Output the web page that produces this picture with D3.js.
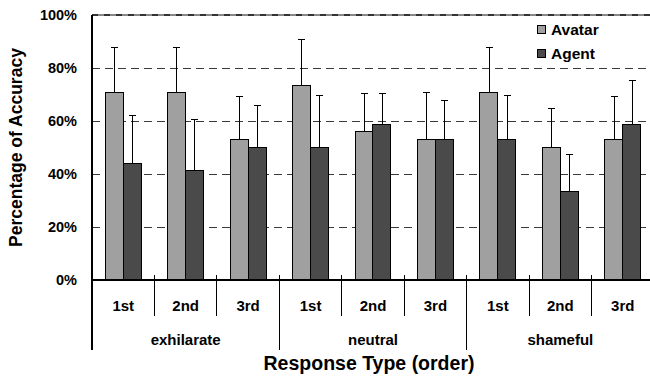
<!DOCTYPE html>
<html>
<head>
<meta charset="utf-8">
<script src="https://cdn.jsdelivr.net/npm/d3@7"></script>
<style>
  body { margin: 0; background: #fff; }
  text { font-family: Arial, "Liberation Sans", sans-serif; font-weight: bold; fill: #000; }
  line, rect { shape-rendering: crispEdges; }
</style>
</head>
<body>
<div id="chart"></div>
<script>
// data
const emotions = ["exhilarate", "neutral", "shameful"]
const orders = ["1st", "2nd", "3rd"]
const seriesNames = ["Avatar", "Agent"]
const avatarMean = [70.6, 70.6, 52.9, 73.5, 55.9, 52.9, 70.6, 50.0, 52.9]
const avatarUpper = [87.8, 87.8, 69.1, 90.9, 70.4, 70.9, 87.8, 64.8, 69.1]
const agentMean = [44.1, 41.2, 50.0, 50.0, 58.8, 52.9, 52.9, 33.3, 58.8]
const agentUpper = [62.1, 60.4, 66.0, 69.8, 70.4, 67.9, 69.8, 47.2, 75.1]
const yTicks = [0, 20, 40, 60, 80, 100]

const width = 650, height = 376
const margin = {left: 92, right: -4, top: 15, bottom: 96}
const colors = {Avatar: "#a0a0a0", Agent: "#4a4a4a"}

const svg = d3.select("#chart").append("svg")
    .attr("width", width)
    .attr("height", height)

// one slot per emotion/order pair
const slots = []
emotions.forEach(e => orders.forEach(o => slots.push(e + "|" + o)))

const x = d3.scaleBand()
    .domain(slots)
    .range([margin.left, width - margin.right])

const xInner = d3.scaleBand()
    .domain(seriesNames)
    .range([0, x.bandwidth()])
    .paddingInner(0)
    .paddingOuter(0.74)

const y = d3.scaleLinear()
    .domain([0, 100])
    .range([height - margin.bottom, margin.top])

// gridlines
svg.append("g")
    .selectAll("line")
    .data(yTicks.filter(d => d > 0 && d < 100))
    .enter().append("line")
    .attr("x1", margin.left)
    .attr("x2", width)
    .attr("y1", d => y(d) + 0.5)
    .attr("y2", d => y(d) + 0.5)
    .attr("stroke", "#3a3a3a")
    .attr("stroke-width", 1)
    .attr("stroke-dasharray", "8,5")

// top border: gray line with darker dashes
svg.append("line")
    .attr("x1", margin.left).attr("x2", width)
    .attr("y1", y(100)).attr("y2", y(100))
    .attr("stroke", "#888").attr("stroke-width", 2)
svg.append("line")
    .attr("x1", margin.left).attr("x2", width)
    .attr("y1", y(100)).attr("y2", y(100))
    .attr("stroke", "#333").attr("stroke-width", 2)
    .attr("stroke-dasharray", "6,6")

// y tick labels
svg.append("g")
    .selectAll("text")
    .data(yTicks)
    .enter().append("text")
    .attr("x", 77)
    .attr("y", d => y(d))
    .attr("dy", "0.36em")
    .attr("text-anchor", "end")
    .style("font-size", "14.5px")
    .text(d => d + "%")

const rows = slots.map((s, i) => ({
    slot: s,
    values: [
        {name: "Avatar", mean: avatarMean[i], upper: avatarUpper[i]},
        {name: "Agent", mean: agentMean[i], upper: agentUpper[i]}
    ]
}))

const groups = svg.append("g")
    .selectAll("g")
    .data(rows)
    .enter().append("g")
    .attr("transform", d => "translate(" + x(d.slot) + ",0)")

const bars = groups.selectAll("g")
    .data(d => d.values)
    .enter().append("g")

const cx = d => Math.round(xInner(d.name) + xInner.bandwidth() / 2) + 0.5

// error bars (upper only)
bars.append("line")
    .attr("x1", cx)
    .attr("x2", cx)
    .attr("y1", d => y(d.mean))
    .attr("y2", d => y(d.upper))
    .attr("stroke", "#000")
    .attr("stroke-width", 1)
bars.append("line")
    .attr("x1", d => cx(d) - 3.5)
    .attr("x2", d => cx(d) + 3.5)
    .attr("y1", d => y(d.upper))
    .attr("y2", d => y(d.upper))
    .attr("stroke", "#000")
    .attr("stroke-width", 1)

bars.append("rect")
    .attr("x", d => xInner(d.name))
    .attr("y", d => y(d.mean))
    .attr("width", xInner.bandwidth())
    .attr("height", d => y(0) - y(d.mean))
    .attr("fill", d => colors[d.name])
    .attr("stroke", "#000")
    .attr("stroke-width", 1)

// axes lines
svg.append("line")
    .attr("x1", margin.left).attr("x2", width)
    .attr("y1", y(0)).attr("y2", y(0))
    .attr("stroke", "#000").attr("stroke-width", 1.5)
svg.append("line")
    .attr("x1", margin.left).attr("x2", margin.left)
    .attr("y1", y(100)).attr("y2", 350)
    .attr("stroke", "#000").attr("stroke-width", 1.5)

// dividers between order slots and between emotion groups
svg.append("g")
    .selectAll("line")
    .data(slots.slice(1))
    .enter().append("line")
    .attr("x1", d => x(d))
    .attr("x2", d => x(d))
    .attr("y1", y(0) - 5)
    .attr("y2", d => d.endsWith("1st") ? 350 : 316)
    .attr("stroke", "#000")
    .attr("stroke-width", 1)

// order labels
svg.append("g")
    .selectAll("text")
    .data(slots)
    .enter().append("text")
    .attr("x", d => x(d) + x.bandwidth() / 2)
    .attr("y", 306)
    .attr("dy", "0.36em")
    .attr("text-anchor", "middle")
    .style("font-size", "15px")
    .text(d => d.split("|")[1])

// emotion labels
svg.append("g")
    .selectAll("text")
    .data(emotions)
    .enter().append("text")
    .attr("x", d => x(d + "|2nd") + x.bandwidth() / 2)
    .attr("y", 340)
    .attr("dy", "0.36em")
    .attr("text-anchor", "middle")
    .style("font-size", "15px")
    .text(d => d)

// axis titles
svg.append("text")
    .attr("x", 369)
    .attr("y", 363)
    .attr("dy", "0.36em")
    .attr("text-anchor", "middle")
    .style("font-size", "19.5px")
    .text("Response Type (order)")

svg.append("text")
    .attr("transform", "translate(16," + y(50) + ") rotate(-90)")
    .attr("dy", "0.36em")
    .attr("text-anchor", "middle")
    .style("font-size", "17.5px")
    .text("Percentage of Accuracy")

// legend
const legend = svg.append("g")
    .selectAll("g")
    .data(seriesNames)
    .enter().append("g")
    .attr("transform", (d, i) => "translate(537," + (25 + i * 24) + ")")
legend.append("rect")
    .attr("width", 8).attr("height", 8)
    .attr("fill", d => colors[d])
    .attr("stroke", "#000")
    .attr("stroke-width", 1)
legend.append("text")
    .attr("x", 14)
    .attr("y", 4)
    .attr("dy", "0.36em")
    .style("font-size", "15.5px")
    .text(d => d)
</script>
</body>
</html>
